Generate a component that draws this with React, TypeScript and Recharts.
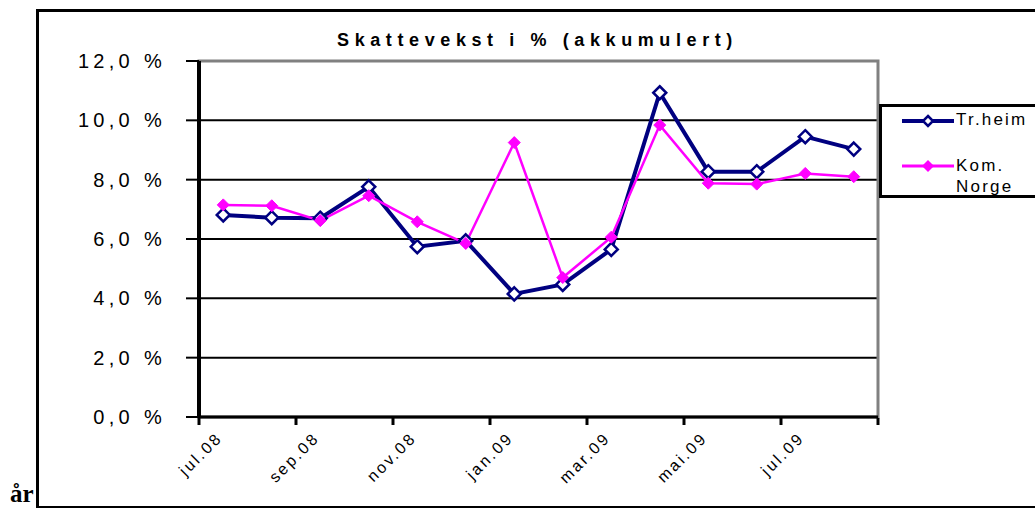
import React from "react";
import {
  LineChart,
  Line,
  XAxis,
  YAxis,
  CartesianGrid,
  ReferenceArea,
} from "recharts";

const months = [
  "jul.08", "aug.08", "sep.08", "okt.08", "nov.08", "des.08", "jan.09",
  "feb.09", "mar.09", "apr.09", "mai.09", "jun.09", "jul.09", "aug.09",
];
const trheim = [6.81, 6.72, 6.7, 7.76, 5.74, 5.94, 4.15, 4.47, 5.65, 10.93, 8.27, 8.27, 9.45, 9.03];
const komNorge = [7.15, 7.12, 6.62, 7.46, 6.58, 5.85, 9.25, 4.7, 6.06, 9.84, 7.88, 7.85, 8.21, 8.1];
const yTicks = [0, 2, 4, 6, 8, 10, 12];
const labelTicks = [0.5, 2.5, 4.5, 6.5, 8.5, 10.5, 12.5];
const markTicks = [0, 2, 4, 6, 8, 10, 12, 14];

const data = months.map((m, i) => ({
  x: i + 0.5,
  month: m,
  trheim: trheim[i],
  kom: komNorge[i],
}));

const NAVY = "#000080";
const MAGENTA = "#FF00FF";
const FONT = "'Liberation Sans', Arial, sans-serif";

const fmtPct = (v: number) => v.toFixed(1).replace(".", ",") + " %";

const OpenDiamond = (props: any) => {
  const { cx, cy, index } = props;
  if (cx == null || cy == null) return <g key={index} />;
  const s = 6.5;
  return (
    <polygon
      key={index}
      points={`${cx},${cy - s} ${cx + s},${cy} ${cx},${cy + s} ${cx - s},${cy}`}
      fill="#fff"
      stroke={NAVY}
      strokeWidth={2.5}
    />
  );
};

const FilledDiamond = (props: any) => {
  const { cx, cy, index } = props;
  if (cx == null || cy == null) return <g key={index} />;
  const s = 6;
  return (
    <polygon
      key={index}
      points={`${cx},${cy - s} ${cx + s},${cy} ${cx},${cy + s} ${cx - s},${cy}`}
      fill={MAGENTA}
      stroke={MAGENTA}
      strokeWidth={1}
    />
  );
};

// rotated month label, anchored at the end
const MonthTick = (props: any) => {
  const { x, y, payload } = props;
  const idx = Math.round(payload.value - 0.5);
  return (
    <text
      x={x}
      y={y}
      textAnchor="end"
      fontFamily={FONT}
      fontSize={16}
      letterSpacing={2.5}
      fill="#000"
      transform={`rotate(-45 ${x} ${y})`}
    >
      {months[idx]}
    </text>
  );
};

const NoLabel = () => <g />;

const LegendBox = () => (
  <div
    style={{
      position: "absolute",
      left: 879,
      top: 104,
      width: 170,
      height: 88,
      border: "3px solid #000",
      background: "#fff",
      fontFamily: FONT,
      fontSize: 17,
      letterSpacing: 2.2,
    }}
  >
    <svg width={60} height={90} style={{ position: "absolute", left: 15, top: 0 }}>
      <line x1={5} y1={14} x2={57} y2={14} stroke={NAVY} strokeWidth={4} />
      <polygon points="31,9 36,14 31,19 26,14" fill="#fff" stroke={NAVY} strokeWidth={2.5} />
      <line x1={5} y1={59} x2={57} y2={59} stroke={MAGENTA} strokeWidth={3} />
      <polygon points="31,53 37,59 31,65 25,59" fill={MAGENTA} />
    </svg>
    <div style={{ position: "absolute", left: 74, top: 3 }}>Tr.heim</div>
    <div style={{ position: "absolute", left: 74, top: 48, lineHeight: "21px" }}>
      Kom.
      <br />
      Norge
    </div>
  </div>
);

export default function App() {
  return (
    <div
      style={{
        position: "absolute",
        left: 0,
        top: 0,
        width: 1035,
        height: 508,
        background: "#fff",
        overflow: "hidden",
      }}
    >
      <div
        style={{
          position: "absolute",
          left: 36,
          top: 9,
          width: 1100,
          height: 494,
          borderLeft: "3px solid #000",
          borderTop: "3px solid #000",
          borderBottom: "3px solid #000",
        }}
      />
      <div
        style={{
          position: "absolute",
          left: 10,
          top: 481,
          fontFamily: "'Liberation Serif', 'Times New Roman', serif",
          fontSize: 25,
          fontWeight: "bold",
          lineHeight: "26px",
        }}
      >
        år
      </div>
      <div
        style={{
          position: "absolute",
          left: 0,
          top: 30,
          width: 1075,
          textAlign: "center",
          fontFamily: FONT,
          fontSize: 18,
          fontWeight: "bold",
          letterSpacing: 5.6,
        }}
      >
        Skattevekst i % (akkumulert)
      </div>
      <div style={{ position: "absolute", left: 0, top: 0 }}>
        <LineChart
          width={1035}
          height={508}
          data={data}
          margin={{ top: 61, right: 157, bottom: 0, left: 0 }}
        >
          <CartesianGrid vertical={false} stroke="#000" strokeWidth={2} />
          <ReferenceArea
            x1={0}
            x2={14}
            y1={0}
            y2={12}
            fill="none"
            stroke="#808080"
            strokeWidth={3}
            ifOverflow="visible"
          />
          <XAxis
            type="number"
            dataKey="x"
            domain={[0, 14]}
            allowDataOverflow
            ticks={labelTicks}
            tick={<MonthTick />}
            tickLine={false}
            axisLine={{ stroke: "#000", strokeWidth: 3 }}
            tickSize={8}
            tickMargin={14}
            interval={0}
            height={1}
          />
          <XAxis
            xAxisId="marks"
            type="number"
            dataKey="x"
            domain={[0, 14]}
            allowDataOverflow
            ticks={markTicks}
            tick={<NoLabel />}
            tickLine={{ stroke: "#000", strokeWidth: 3 }}
            tickSize={7}
            axisLine={false}
            interval={0}
            height={90}
          />
          <YAxis
            type="number"
            domain={[0, 12]}
            ticks={yTicks}
            tickFormatter={fmtPct}
            width={199}
            axisLine={{ stroke: "#000", strokeWidth: 4 }}
            tickLine={{ stroke: "#000", strokeWidth: 2 }}
            tickSize={13}
            tickMargin={20}
            tick={{ fill: "#000", fontFamily: FONT, fontSize: 20, letterSpacing: 4.3 }}
          />
          <Line
            dataKey="trheim"
            name="Tr.heim"
            stroke={NAVY}
            strokeWidth={4}
            dot={(p: any) => <OpenDiamond {...p} />}
            isAnimationActive={false}
          />
          <Line
            dataKey="kom"
            name="Kom. Norge"
            stroke={MAGENTA}
            strokeWidth={2.5}
            dot={(p: any) => <FilledDiamond {...p} />}
            isAnimationActive={false}
          />
        </LineChart>
      </div>
      <LegendBox />
    </div>
  );
}
